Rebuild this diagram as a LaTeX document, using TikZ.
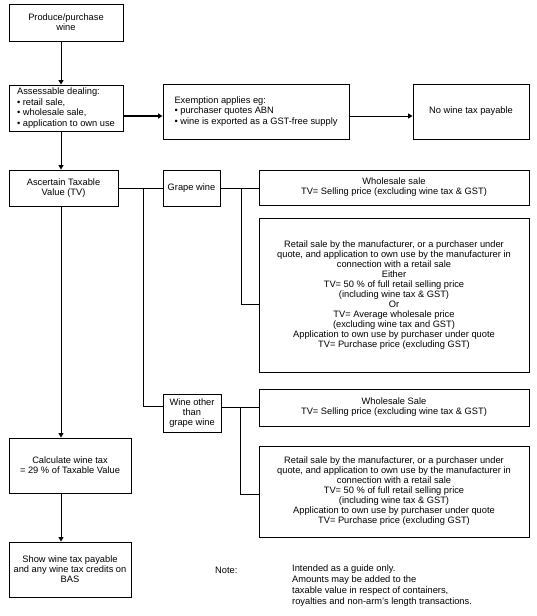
\documentclass[tikz,border=0pt]{standalone}
\usepackage{fontspec}
\setmainfont{Liberation Sans}
\usetikzlibrary{arrows.meta}
\begin{document}
\begin{tikzpicture}[x=1pt,y=-1pt,
  box/.style={draw, line width=0.9pt, inner sep=2pt, align=center,
    font=\fontsize{9.3}{10}\selectfont},
  lbox/.style={box, align=left, font=\fontsize{9.3}{10.6}\selectfont},
  arr/.style={line width=0.9pt, -{Triangle[length=4.5pt,width=5pt]}},
  ln/.style={line width=0.9pt},
  txt/.style={inner sep=0pt, align=left, font=\fontsize{9.3}{11}\selectfont}]
\useasboundingbox (0,0) rectangle (536,616);
\fill[white] (0,0) rectangle (536,616);
\node[box, minimum width=114, minimum height=37] (prod) at (66,22.5) {Produce/purchase\\wine};
\node[lbox, minimum width=114, minimum height=46] (assess) at (66,108) {Assessable dealing:\\• retail sale,\\• wholesale sale,\\• application to own use};
\node[lbox, minimum width=186, minimum height=55] (exempt) at (256,111.5) {Exemption applies eg:\\• purchaser quotes ABN\\• wine is exported as a GST-free supply};
\node[box, minimum width=116, minimum height=55] (notax) at (471,111.5) {No wine tax payable};
\node[box, minimum width=109, minimum height=36] (ascert) at (63.5,188) {Ascertain Taxable\\Value (TV)};
\node[box, minimum width=57, minimum height=36] (grape) at (191.5,188) {Grape wine};
\node[box, minimum width=270, minimum height=35] (gws) at (394,187.5) {Wholesale sale\\TV= Selling price (excluding wine tax \& GST)};
\node[box, minimum width=270, minimum height=154] (gret) at (394,295) {Retail sale by the manufacturer, or a purchaser under\\quote, and application to own use by the manufacturer in\\connection with a retail sale\\Either\\TV= 50 \% of full retail selling price\\(including wine tax \& GST)\\Or\\TV= Average wholesale price\\(excluding wine tax and GST)\\Application to own use by purchaser under quote\\TV= Purchase price (excluding GST)};
\node[box, minimum width=58, minimum height=38] (other) at (192,413) {Wine other\\than\\grape wine};
\node[box, minimum width=270, minimum height=37] (ows) at (394,407.5) {Wholesale Sale\\TV= Selling price (excluding wine tax \& GST)};
\node[box, minimum width=270, minimum height=91] (oret) at (394,491.5) {Retail sale by the manufacturer, or a purchaser under\\quote, and application to own use by the manufacturer in\\connection with a retail sale\\TV= 50 \% of full retail selling price\\(including wine tax \& GST)\\Application to own use by purchaser under quote\\TV= Purchase price (excluding GST)};
\node[box, minimum width=122, minimum height=55] (calc) at (70,465.5) {Calculate wine tax\\= 29 \% of Taxable Value};
\node[box, minimum width=122, minimum height=55] (show) at (70,569.5) {Show wine tax payable\\and any wine tax credits on\\BAS};
\node[txt, anchor=west] (notelabel) at (215,570) {Note:};
\node[txt, anchor=north west] (notetext) at (292,565) {Intended as a guide only.\\Amounts may be added to the\\taxable value in respect of containers,\\royalties and non-arm's length transactions.};
% connectors
\coordinate (ax) at (61,0);
\coordinate (ey) at (0,116);
\draw[arr] (prod.south -| ax) -- (assess.north -| ax);
\draw[arr] (assess.south -| ax) -- (ascert.north -| ax);
\draw[arr] (ascert.south -| ax) -- (calc.north -| ax);
\draw[arr] (calc.south -| ax) -- (show.north -| ax);
\draw[arr, line width=1.8pt] (assess.east |- ey) -- (exempt.west |- ey);
\draw[arr] (exempt.east |- ey) -- (notax.west |- ey);
\draw[ln] (ascert.east) -- (grape.west);
\coordinate (b1top) at (143,188);
\coordinate (b1bot) at (143,406);
\draw[ln] (b1top) -- (b1bot) -- (other.west |- b1bot);
\draw[ln] (grape.east) -- (gws.west |- grape.east);
\coordinate (b2top) at (241,188);
\coordinate (b2bot) at (241,304);
\draw[ln] (b2top) -- (b2bot) -- (gret.west |- b2bot);
\coordinate (oy) at (0,407);
\draw[ln] (other.east |- oy) -- (ows.west |- oy);
\coordinate (b3top) at (240,407);
\coordinate (b3bot) at (240,494);
\draw[ln] (b3top) -- (b3bot) -- (oret.west |- b3bot);
\end{tikzpicture}
\end{document}
